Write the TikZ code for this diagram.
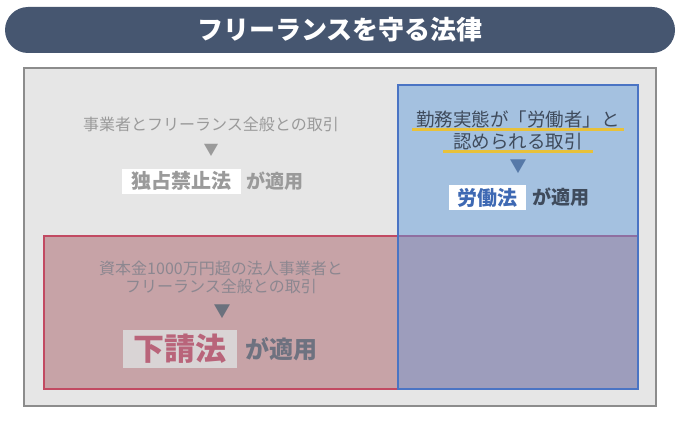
\documentclass[tikz,border=0pt]{standalone}
\usepackage{fontspec}
\setmainfont{Noto Sans CJK JP}
\usetikzlibrary{positioning}

\definecolor{titlebg}{HTML}{465670}
\definecolor{outerfill}{HTML}{E6E6E6}
\definecolor{outerline}{HTML}{8C8C8C}
\definecolor{bluefill}{HTML}{A4C1E0}
\definecolor{blueline}{HTML}{4A74C4}
\definecolor{redfill}{HTML}{C7A3A7}
\definecolor{redline}{HTML}{C24A62}
\definecolor{mixfill}{HTML}{9D9DBC}
\definecolor{mixline}{HTML}{8F6FA0}
\definecolor{fadetext}{HTML}{9A9A9A}
\definecolor{darktext}{HTML}{3F4B5C}
\definecolor{hiyellow}{HTML}{E8C13A}
\definecolor{bluearrow}{HTML}{5679A8}
\definecolor{bluelaw}{HTML}{3E69B3}
\definecolor{redtext}{HTML}{8C8790}
\definecolor{redarrow}{HTML}{6B717D}
\definecolor{redlaw}{HTML}{B9647A}
\definecolor{lawgray}{HTML}{D9D4D5}
\definecolor{applytext}{HTML}{6E7280}

\newcommand{\jpsize}[1]{\fontsize{#1}{#1}\selectfont}

\begin{document}
\begin{tikzpicture}[x=1pt, y=-1pt,
    jp/.style={inner sep=0pt, font=\jpsize{#1}, text height=0.88*#1pt, text depth=0.12*#1pt},
    lawbox/.style={jp=#1, inner ysep=2.5pt, font=\jpsize{#1}\bfseries},
    hiline/.style={hiyellow, line width=3pt}]
    \useasboundingbox (0,0) rectangle (680,425);

    % Title bar
    \node[fill=titlebg, rounded corners=23pt, minimum width=670pt, minimum height=46pt,
          text=white, font=\jpsize{26}\bfseries] (title) at (340,30) {フリーランスを守る法律};

    % Outer frame
    \draw[outerline, fill=outerfill, line width=2.5pt] (24,68) rectangle (656,406);

    % Regions
    \fill[bluefill] (398,85) rectangle (638,236);
    \fill[redfill] (44,236) rectangle (398,389);
    \fill[mixfill] (398,236) rectangle (638,389);
    \draw[redline, line width=2.5pt] (398,236) -- (44,236) -- (44,389) -- (398,389);
    \draw[mixline, line width=2.5pt] (398,236) -- (638,236);
    \draw[blueline, line width=2.5pt] (398,85) rectangle (638,389);

    % Antitrust law (whole area)
    \node[jp=16, text=fadetext] (note1) at (211,124) {事業者とフリーランス全般との取引};
    \node[jp=15, text=fadetext] (arrow1) at (211,150) {▼};
    \node[lawbox=20, fill=white, inner xsep=9.5pt, text=fadetext] (law1) at (181,181) {独占禁止法};
    \node[jp=19, right=6pt of law1, text=fadetext, font=\jpsize{19}\bfseries] (apply1) {が適用};

    % Labour law (blue)
    \node[jp=18.5, inner xsep=4pt, text=darktext] (note2a) at (518,119) {勤務実態が「労働者」と};
    \node[jp=18.5, inner xsep=10pt, text=darktext] (note2b) at (518,141) {認められる取引};
    \draw[hiline] ([yshift=-1.5pt]note2a.south west) -- ([yshift=-1.5pt]note2a.south east);
    \draw[hiline] ([yshift=-1.5pt]note2b.south west) -- ([yshift=-1.5pt]note2b.south east);
    \node[jp=17, text=bluearrow] (arrow2) at (518,166) {▼};
    \node[lawbox=20, fill=white, inner xsep=8.5pt, text=bluelaw] (law2) at (487.5,197.5) {労働法};
    \node[jp=19, right=6pt of law2, text=darktext, font=\jpsize{19}\bfseries] (apply2) {が適用};

    % Subcontract act (red)
    \node[jp=16, text=redtext] (note3a) at (221,268) {資本金1000万円超の法人事業者と};
    \node[jp=16, text=redtext] (note3b) at (221,286) {フリーランス全般との取引};
    \node[jp=17, text=redarrow] (arrow3) at (222,311) {▼};
    \node[lawbox=31, fill=lawgray, inner xsep=10.5pt, inner ysep=3.5pt, text=redlaw] (law3) at (180,349) {下請法};
    \node[jp=24, right=8pt of law3, text=applytext, font=\jpsize{24}\bfseries] (apply3) {が適用};
\end{tikzpicture}
\end{document}
